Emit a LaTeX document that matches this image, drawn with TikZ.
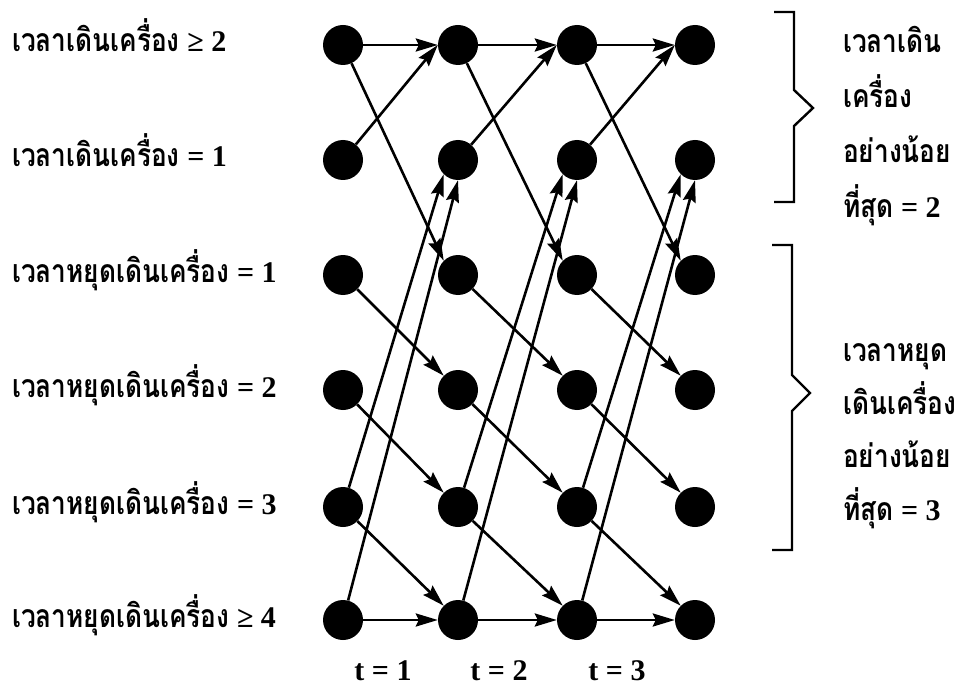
\documentclass[tikz,border=0pt]{standalone}
\usepackage{fontspec}
\setmainfont{Liberation Serif}
\newfontfamily\thaifont[Script=Thai,FakeStretch=0.82]{Loma}
\usetikzlibrary{arrows.meta}
\newcommand{\thai}[1]{{\thaifont\fontsize{32}{36}\selectfont #1}}

\begin{document}
\begin{tikzpicture}[x=1pt,y=-1pt,
    state/.style={circle,fill=black,inner sep=0pt,minimum size=40pt},
    arr/.style={-{Stealth[length=22pt,width=13pt,inset=3pt]},line width=2.6pt},
    rowlabel/.style={anchor=base west,inner sep=0pt,font=\fontsize{30}{36}\selectfont\bfseries},
    tlabel/.style={anchor=base,inner sep=0pt,font=\fontsize{30}{36}\selectfont\bfseries},
    brace/.style={line width=2.4pt}
  ]
  \useasboundingbox[fill=white] (0,0) rectangle (961,687);

  % states, one column per period
  \foreach \c/\x in {1/343,2/458,3/577,4/695}{
    \node[state] (up2-\c) at (\x,45) {};
    \node[state] (up1-\c) at (\x,160) {};
    \node[state] (dn1-\c) at (\x,275) {};
    \node[state] (dn2-\c) at (\x,390) {};
    \node[state] (dn3-\c) at (\x,507) {};
    \node[state] (dn4-\c) at (\x,620) {};
  }

  % transitions to the next period
  \foreach \c [count=\d from 2] in {1,2,3}{
    \draw[arr] (up2-\c) -- (up2-\d.west);
    \draw[arr] (up1-\c) -- (up2-\d.west);
    \draw[arr] (up2-\c) -- (dn1-\d.north west);
    \draw[arr] (dn1-\c) -- (dn2-\d.north west);
    \draw[arr] (dn2-\c) -- (dn3-\d.north west);
    \draw[arr] (dn3-\c) -- (dn4-\d.north west);
    \draw[arr] (dn3-\c) -- (up1-\d.south west);
    \draw[arr] (dn4-\c) -- (up1-\d.south);
    \draw[arr] (dn4-\c) -- (dn4-\d.west);
  }

  % row labels
  \node[rowlabel] (lab-up2) at (12,52) {\thai{เวลาเดินเครื่อง} ≥ 2};
  \node[rowlabel] (lab-up1) at (12,167) {\thai{เวลาเดินเครื่อง} = 1};
  \node[rowlabel] (lab-dn1) at (12,282) {\thai{เวลาหยุดเดินเครื่อง} = 1};
  \node[rowlabel] (lab-dn2) at (12,397) {\thai{เวลาหยุดเดินเครื่อง} = 2};
  \node[rowlabel] (lab-dn3) at (12,514) {\thai{เวลาหยุดเดินเครื่อง} = 3};
  \node[rowlabel] (lab-dn4) at (12,627) {\thai{เวลาหยุดเดินเครื่อง} ≥ 4};

  % periods
  \node[tlabel] (t1) at (383,680) {t = 1};
  \node[tlabel] (t2) at (499,680) {t = 2};
  \node[tlabel] (t3) at (617,680) {t = 3};

  % minimum up and down times
  \draw[brace] (774,12) -- (794,12) -- (794,90) -- (813,108) -- (794,126) -- (794,202) -- (774,202);
  \draw[brace] (772,245) -- (792,245) -- (792,375) -- (810,393) -- (792,411) -- (792,550) -- (772,550);
  \foreach \t [count=\i from 0] in {\thai{เวลาเดิน},\thai{เครื่อง},\thai{อย่างน้อย},{\thai{ที่สุด} = 2}}
    \node[rowlabel] (up-note\i) at (843,53+55*\i) {\t};
  \foreach \t [count=\i from 0] in {\thai{เวลาหยุด},\thai{เดินเครื่อง},\thai{อย่างน้อย},{\thai{ที่สุด} = 3}}
    \node[rowlabel] (dn-note\i) at (843,361+53*\i) {\t};
\end{tikzpicture}
\end{document}
